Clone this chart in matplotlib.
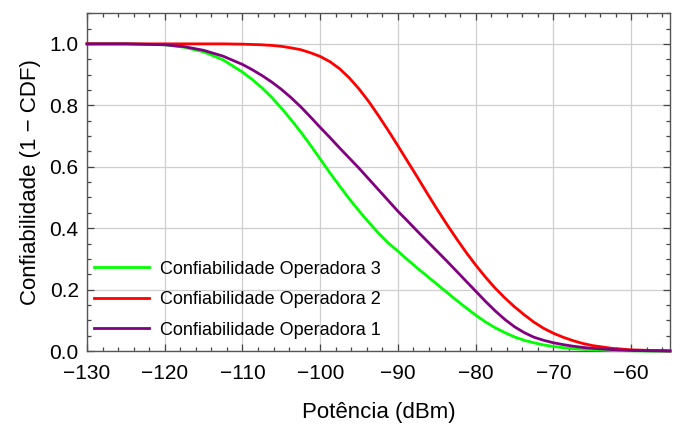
import matplotlib; matplotlib.use("Agg")
import matplotlib.pyplot as plt
from matplotlib.ticker import MultipleLocator

plt.rcParams["font.family"] = ["Liberation Sans", "DejaVu Sans"]

# potencia (dBm) and reliability curves
pot = [-130, -125, -120, -117.5, -115, -112.5,
       -110, -108.75, -107.5, -106.25, -105, -103.75, -102.5, -101.25,
       -100, -98.75, -97.5, -96.25, -95, -93.75, -92.5, -91.25,
       -90, -88.75, -87.5, -86.25, -85, -83.75, -82.5, -81.25,
       -80, -78.75, -77.5, -76.25, -75, -73.75, -72.5, -71.25,
       -70, -68.75, -67.5, -66.25, -65, -62.5, -60, -57.5, -55]
op3 = [1.0, 1.0, 0.997, 0.989, 0.974, 0.948,
       0.908, 0.884, 0.857, 0.826, 0.791, 0.753, 0.713, 0.67,
       0.625, 0.58, 0.537, 0.495, 0.456, 0.419, 0.384, 0.352,
       0.325, 0.297, 0.27, 0.244, 0.218, 0.192, 0.166, 0.141,
       0.117, 0.095, 0.076, 0.06, 0.046, 0.035, 0.027, 0.02,
       0.015, 0.011, 0.008, 0.006, 0.005, 0.002, 0.001, 0.0, 0.0]
op2 = [1.0, 1.0, 1.0, 1.0, 1.0, 1.0,
       0.999, 0.998, 0.997, 0.995, 0.992, 0.987, 0.981, 0.971,
       0.959, 0.942, 0.919, 0.889, 0.853, 0.812, 0.766, 0.718,
       0.668, 0.617, 0.566, 0.514, 0.463, 0.414, 0.367, 0.322,
       0.28, 0.241, 0.205, 0.173, 0.144, 0.118, 0.094, 0.074,
       0.058, 0.045, 0.034, 0.025, 0.018, 0.009, 0.004, 0.002, 0.001]
op1 = [1.0, 1.0, 0.997, 0.991, 0.979, 0.96,
       0.933, 0.916, 0.897, 0.876, 0.852, 0.825, 0.795, 0.762,
       0.728, 0.695, 0.661, 0.628, 0.595, 0.56, 0.525, 0.49,
       0.455, 0.423, 0.39, 0.358, 0.326, 0.294, 0.261, 0.228,
       0.195, 0.162, 0.131, 0.103, 0.079, 0.06, 0.045, 0.035,
       0.027, 0.021, 0.016, 0.012, 0.009, 0.005, 0.002, 0.001, 0.0]

series = [("Confiabilidade Operadora 3", op3, "#00ff00"),
          ("Confiabilidade Operadora 2", op2, "#ff0000"),
          ("Confiabilidade Operadora 1", op1, "#800080")]

fig = plt.figure(figsize=(6.83, 4.24), dpi=100)
ax = fig.add_axes([0.1274, 0.172, 0.8536, 0.797])

for lab, ys, col in series:
    ax.plot(pot, ys, color=col, lw=2, label=lab, clip_on=False, zorder=3,
            solid_joinstyle="round")

ax.set_xlim(-130, -55)
ax.set_ylim(0, 1.1)
ax.xaxis.set_major_locator(MultipleLocator(10))
ax.xaxis.set_minor_locator(MultipleLocator(2))
ax.yaxis.set_major_locator(MultipleLocator(0.2))
ax.yaxis.set_minor_locator(MultipleLocator(0.05))
ax.xaxis.set_major_formatter(plt.FuncFormatter(lambda v, p: f"{v:.0f}".replace("-", "\u2212")))
ax.yaxis.set_major_formatter(plt.FuncFormatter(lambda v, p: f"{v:.1f}"))
ax.tick_params(which="both", direction="in", top=True, right=True, colors="#444",
               labelcolor="black", labelsize=15, width=0.9)
ax.tick_params(which="major", length=5)
ax.tick_params(which="minor", length=3)
ax.tick_params(axis="x", which="major", pad=9)
ax.tick_params(axis="y", which="major", pad=6)
for s in ax.spines.values():
    s.set_color("#555"); s.set_linewidth(1)
ax.grid(True, which="major", color="#cfcfcf", lw=0.9)

ax.set_xlabel("Potência (dBm)", fontsize=16, labelpad=14)
ax.set_ylabel("Confiabilidade (1 \u2212 CDF)", fontsize=16, labelpad=6)

ax.legend(loc="lower left", bbox_to_anchor=(0.0, 0.015), frameon=False, fontsize=13,
          handlelength=3.05, handletextpad=0.6, labelspacing=0.75, borderaxespad=0.0)

fig.savefig("out.png", dpi=100)
